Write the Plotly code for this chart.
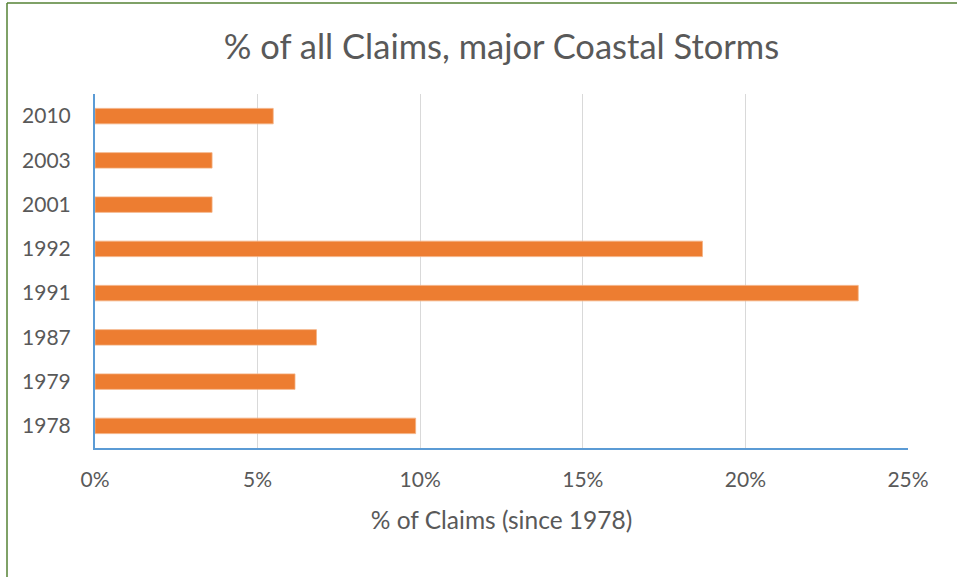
import plotly.graph_objects as go

years = ["1978", "1979", "1987", "1991", "1992", "2001", "2003", "2010"]
pct_claims = [9.86, 6.15, 6.81, 23.47, 18.68, 3.60, 3.60, 5.48]
x_ticks = [0, 5, 10, 15, 20, 25]
x_tick_labels = ["0%", "5%", "10%", "15%", "20%", "25%"]

FONT = "Lato"
TXT = "#595959"

fig = go.Figure(
    go.Bar(
        x=pct_claims,
        y=years,
        orientation="h",
        marker=dict(color="#ED7D31", line=dict(color="#F4B183", width=0.8)),
        hoverinfo="x+y",
    )
)

fig.update_layout(
    width=957,
    height=577,
    paper_bgcolor="white",
    plot_bgcolor="white",
    margin=dict(l=95, r=49, t=94, b=129),
    bargap=0.65,
    showlegend=False,
    title=dict(
        text="% of all Claims, major Coastal Storms",
        x=0.5,
        xref="paper",
        xanchor="center",
        y=1 - 47 / 577,
        yanchor="middle",
        font=dict(family=FONT, size=34.5, color=TXT),
    ),
    font=dict(family=FONT, color=TXT),
    xaxis=dict(
        range=[0, 25],
        tickvals=x_ticks,
        ticktext=x_tick_labels,
        showgrid=True,
        gridcolor="#D9D9D9",
        gridwidth=1.3,
        zeroline=False,
        showline=True,
        linecolor="#5B9BD5",
        linewidth=2,
        ticks="",
        ticklabelstandoff=12,
        tickfont=dict(family=FONT, size=21, color=TXT),
        title=dict(
            text="% of Claims (since 1978)",
            font=dict(family=FONT, size=24.5, color=TXT),
            standoff=22,
        ),
    ),
    yaxis=dict(
        type="category",
        categoryorder="array",
        categoryarray=years,
        showgrid=False,
        zeroline=False,
        showline=True,
        linecolor="#5B9BD5",
        linewidth=2,
        ticks="",
        ticklabelstandoff=18,
        tickfont=dict(family=FONT, size=21, color=TXT),
    ),
    shapes=[
        dict(type="line", xref="paper", yref="paper",
             x0=(7 - 95) / 813, x1=(7 - 95) / 813, y0=-1, y1=(577 - 3 - 129) / 354,
             line=dict(color="#548235", width=1.5)),
        dict(type="line", xref="paper", yref="paper",
             x0=(7 - 95) / 813, x1=2, y0=(577 - 3 - 129) / 354, y1=(577 - 3 - 129) / 354,
             line=dict(color="#548235", width=1.5)),
    ],
)

fig.write_html(
    "out.html",
    config={"displayModeBar": False},
    post_script="document.body.style.margin='0';",
)
